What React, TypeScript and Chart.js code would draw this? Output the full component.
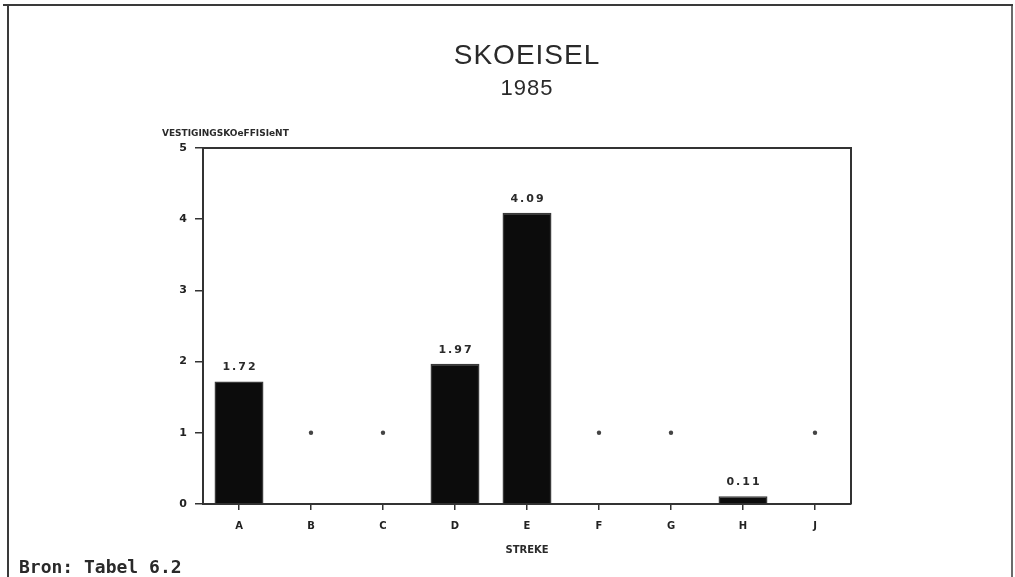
import React, { useEffect, useRef } from "react";
import { Chart, registerables } from "chart.js";

Chart.register(...registerables);

const categories = ["A", "B", "C", "D", "E", "F", "G", "H", "J"];
const barValues: (number | null)[] = [1.72, null, null, 1.97, 4.09, null, null, 0.11, null];
const markerValues: (number | null)[] = [null, 1, 1, null, null, 1, 1, null, 1];
const valueLabels = ["1.72", "", "", "1.97", "4.09", "", "", "0.11", ""];
const yMin = 0;
const yMax = 5;
const yStep = 1;
const titleText = "SKOEISEL";
const subtitleText = "1985";
const yTitleText = "VESTIGINGSKOeFFISIeNT";
const xTitleText = "STREKE";
const sourceText = "Bron: Tabel 6.2";

const W = 1015;
const H = 577;

const decorPlugin = {
  id: "decor",
  afterDraw(chart: any) {
    const ctx = chart.ctx as CanvasRenderingContext2D;
    const a = chart.chartArea;
    ctx.save();
    // outer frame
    ctx.strokeStyle = "#3a3a3a";
    ctx.lineWidth = 2;
    ctx.beginPath();
    ctx.moveTo(3, 5);
    ctx.lineTo(1013, 5);
    ctx.moveTo(8, 5);
    ctx.lineTo(8, H);
    ctx.stroke();
    ctx.lineWidth = 1.5;
    ctx.beginPath();
    ctx.moveTo(1012, 5);
    ctx.lineTo(1012, H);
    ctx.stroke();

    // plot box top/right
    ctx.strokeStyle = "#333";
    ctx.lineWidth = 2;
    ctx.beginPath();
    ctx.moveTo(a.left, a.top);
    ctx.lineTo(a.right, a.top);
    ctx.lineTo(a.right, a.bottom);
    ctx.stroke();

    const cx = (a.left + a.right) / 2;
    // titles
    ctx.fillStyle = "#2a2a2a";
    ctx.textAlign = "center";
    ctx.textBaseline = "middle";
    (ctx as any).letterSpacing = "1px";
    ctx.font = "28px 'Liberation Sans', sans-serif";
    ctx.fillText(titleText, cx, 56);
    ctx.font = "22px 'Liberation Sans', sans-serif";
    ctx.fillText(subtitleText, cx, 89);

    // y title
    (ctx as any).letterSpacing = "0px";
    ctx.textAlign = "left";
    ctx.font = "bold 9px 'DejaVu Sans', sans-serif";
    ctx.fillText(yTitleText, 162, 134);

    // x title
    ctx.textAlign = "center";
    ctx.font = "bold 10px 'DejaVu Sans', sans-serif";
    ctx.fillText(xTitleText, cx, 550);

    // source
    ctx.textAlign = "left";
    ctx.textBaseline = "alphabetic";
    ctx.font = "bold 18px 'DejaVu Sans Mono', monospace";
    ctx.fillText(sourceText, 19, 573);

    // value labels
    const meta = chart.getDatasetMeta(0);
    ctx.textAlign = "center";
    ctx.textBaseline = "middle";
    (ctx as any).letterSpacing = "2px";
    ctx.font = "bold 11px 'DejaVu Sans', sans-serif";
    meta.data.forEach((el: any, i: number) => {
      const v = barValues[i];
      if (v == null || !valueLabels[i]) return;
      ctx.fillText(valueLabels[i], el.x + 1, el.y - 14);
    });
    ctx.restore();
  },
};

export default function App() {
  const ref = useRef<HTMLCanvasElement | null>(null);
  useEffect(() => {
    if (!ref.current) return;
    const chart = new Chart(ref.current, {
      type: "bar",
      data: {
        labels: categories,
        datasets: [
          {
            type: "bar",
            data: barValues as any,
            backgroundColor: "#0c0c0c",
            borderColor: "#3a3a3a",
            borderWidth: 1.5,
            barPercentage: 0.68,
            categoryPercentage: 1,
          },
          {
            type: "line",
            data: markerValues as any,
            showLine: false,
            pointRadius: 2.2,
            pointBackgroundColor: "#444",
            pointBorderWidth: 0,
          } as any,
        ],
      },
      plugins: [decorPlugin],
      options: {
        responsive: false,
        animation: false,
        devicePixelRatio: 1,
        layout: { padding: { left: 163, top: 148, right: 164, bottom: 43 } },
        plugins: {
          legend: { display: false },
          tooltip: { enabled: false },
          title: { display: false },
        },
        scales: {
          x: {
            offset: true,
            afterFit: (s: any) => {
              s.height = 30;
            },
            grid: { display: true, offset: false, drawOnChartArea: false, drawTicks: true, tickLength: 6, color: "#333", lineWidth: 1.5 },
            border: { display: true, color: "#333", width: 2 },
            ticks: {
              color: "#222",
              padding: 10,
              font: { family: "'DejaVu Sans', sans-serif", weight: "bold", size: 10 },
            },
          },
          y: {
            min: yMin,
            max: yMax,
            afterFit: (s: any) => {
              s.width = 40;
            },
            grid: { display: true, drawOnChartArea: false, drawTicks: true, tickLength: 8, color: "#333", lineWidth: 1.5 },
            border: { display: true, color: "#333", width: 2 },
            ticks: {
              stepSize: yStep,
              color: "#222",
              padding: 8,
              font: { family: "'DejaVu Sans', sans-serif", weight: "bold", size: 11 },
            },
          },
        },
      } as any,
    });
    return () => chart.destroy();
  }, []);
  return (
    <div style={{ position: "fixed", left: 0, top: 0, width: W, height: H, background: "#fff" }}>
      <canvas ref={ref} width={W} height={H} style={{ display: "block", width: W, height: H }} />
    </div>
  );
}
